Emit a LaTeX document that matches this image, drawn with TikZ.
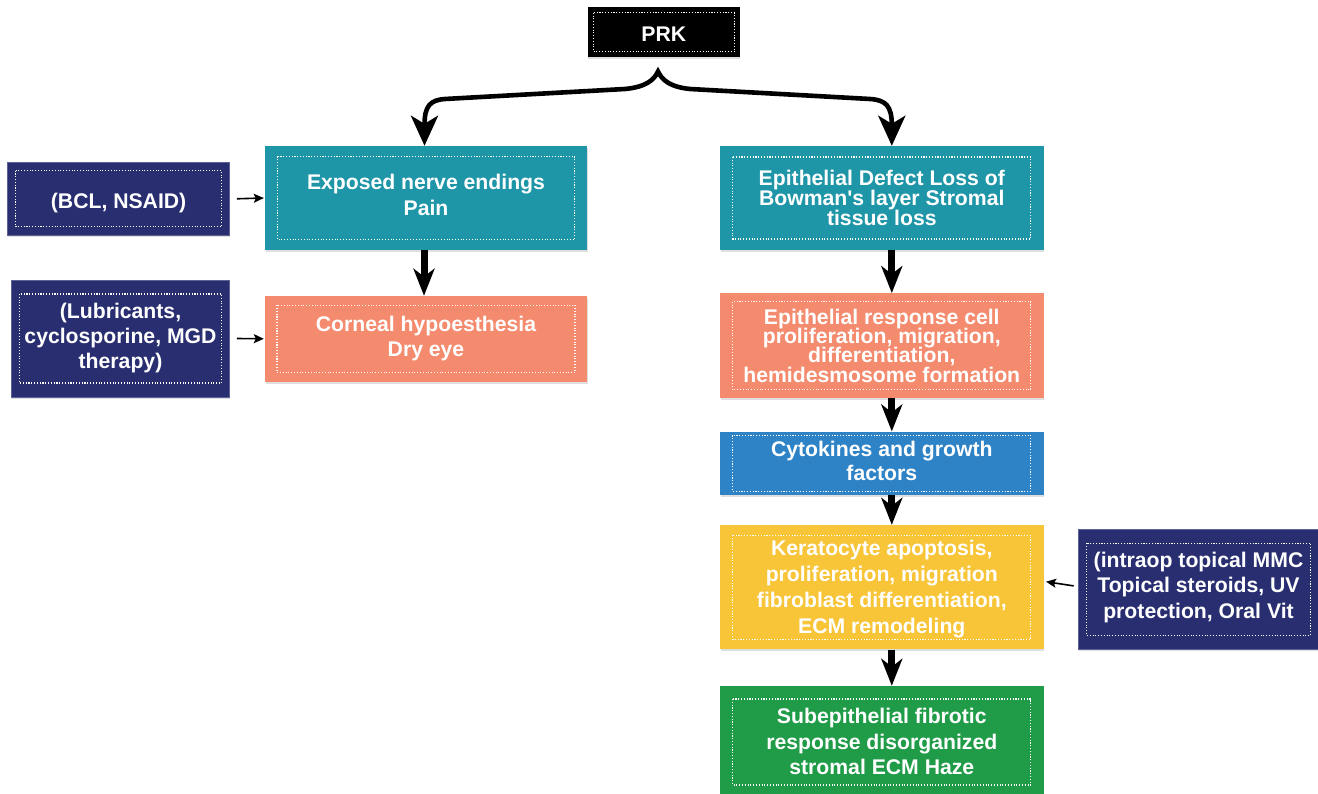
\documentclass[tikz,border=0pt]{standalone}
\usepackage{fontspec}
\setmainfont{Liberation Sans}[Ligatures=TeXOff]
\usetikzlibrary{arrows.meta,shadows}
\definecolor{cteal}{RGB}{30,150,168}
\definecolor{csalmon}{RGB}{244,139,110}
\definecolor{cblue}{RGB}{46,130,198}
\definecolor{cyellow}{RGB}{248,196,56}
\definecolor{cgreen}{RGB}{32,156,72}
\definecolor{cnavy}{RGB}{40,46,112}
\newcommand\dd[1]{\rule[-#1pt]{0pt}{0pt}}
\newcommand\hh[1]{\rule{0pt}{#1pt}}
\newcommand\bx[1]{\bfseries\fontsize{21.2}{#1}\selectfont\lineskiplimit=-50pt}
\begin{document}
\begin{tikzpicture}[x=1pt,y=-1pt,
  dotframe/.style 2 args={path picture={\draw[white,line width=1.1pt,dash pattern=on 1.1pt off 1.7pt]
      ([shift={(#1pt,-#2pt)}]path picture bounding box.north west) rectangle
      ([shift={(-#1pt,#2pt)}]path picture bounding box.south east);}},
  box/.style={fill=#1,draw=none,text=white,align=center,inner sep=0pt,
      drop shadow={shadow xshift=0.5pt,shadow yshift=-2pt,opacity=0.25},
      dotframe={12.5}{10.5}},
  navybox/.style={box=cnavy,draw=cnavy!75!white,line width=0.6pt},
  bigarrow/.style={line width=7pt,-{Stealth[length=27pt,width=21pt,inset=8pt]}},
  brace/.style={line width=4.6pt,line join=miter,
      {Stealth[length=30pt,width=27pt,inset=8pt]}-{Stealth[length=30pt,width=27pt,inset=8pt]}},
  smallarrow/.style={line width=1.6pt,-{Stealth[length=10pt,width=9pt,inset=2pt]}}
]
\useasboundingbox (0,0) rectangle (1318,794);
\begin{scope}
\clip (0,0) rectangle (1318,794);
\node[box=black,minimum width=152,minimum height=50,dotframe={5.5}{5.5},
      font=\bx{24},text height=18.8pt,text depth=0pt] (prk) at (663.8,32.3) {PRK};

\node[box=cteal,minimum width=322,minimum height=104,font=\bx{26}] (nerve) at (426,198)
  {Exposed nerve endings\\Pain\dd{7.2}};
\node[navybox,minimum width=222,minimum height=72.3,dotframe={8}{8},
      font=\bx{24},text height=19pt,text depth=0pt] (bcl) at (118.6,198.8)
  {(BCL, NSAID)};
\node[box=csalmon,minimum width=322,minimum height=85.7,dotframe={12}{9.3},font=\bx{25}] (hypo) at (426,338.8)
  {Corneal hypoesthesia\\Dry eye};
\node[navybox,minimum width=218,minimum height=117,dotframe={8}{14},font=\bx{25}] (lub) at (120.5,338.5)
  {(Lubricants,\\cyclosporine, MGD\\therapy)\dd{5.8}};

\node[box=cteal,minimum width=323.5,minimum height=104,dotframe={12.7}{11},font=\bx{20.2}] (defect) at (881.8,198)
  {Epithelial Defect Loss of\\Bowman's layer Stromal\\tissue loss};
\node[box=csalmon,minimum width=323.5,minimum height=105,dotframe={12.7}{8.5},font=\bx{19.2}] (epresp) at (881.8,345.8)
  {Epithelial response cell\\proliferation, migration,\\differentiation,\\hemidesmosome formation};
\node[box=cblue,minimum width=323.5,minimum height=63.3,dotframe={12.7}{3.8},font=\bx{24}] (cyto) at (881.8,463.3)
  {Cytokines and growth\\factors\dd{5.8}};
\node[box=cyellow,minimum width=323.5,minimum height=124.3,dotframe={12.7}{10},font=\bx{25.7}] (kera) at (881.8,587.2)
  {\hh{19.1}Keratocyte apoptosis,\\proliferation, migration\\fibroblast differentiation,\\ECM remodeling};
\node[box=cgreen,minimum width=323.5,minimum height=112,dotframe={12.7}{13},font=\bx{25.8}] (haze) at (881.8,742)
  {Subepithelial fibrotic\\response disorganized\\stromal ECM Haze\dd{1}};
\node[navybox,minimum width=240,minimum height=120,dotframe={8}{14},font=\bx{25.5}] (mmc) at (1198.5,589.3)
  {(intraop topical MMC\\Topical steroids, UV\\protection, Oral Vit\dd{8.4}};
\end{scope}

% brace arrow from PRK splitting to both branches
\coordinate (peak) at ([xshift=-5.8pt,yshift=-14pt]prk.south);
\draw[brace] ([xshift=-1.5pt]nerve.north) .. controls (424.5,106) and (430,100) .. (445,99)
   -- (625,89) .. controls (646,87) and (654,80) .. (peak)
   .. controls (662,80) and (670,87) .. (690,89)
   -- (870,99) .. controls (886,100) and (891.8,106) .. ([xshift=10pt]defect.north);

% vertical flow arrows
\draw[bigarrow] ([xshift=-2pt]nerve.south) -- ([xshift=-2pt]hypo.north);
\draw[bigarrow] ([xshift=10pt]defect.south) -- ([xshift=10pt]epresp.north);
\draw[bigarrow] ([xshift=10pt]epresp.south) -- ([xshift=10pt]cyto.north);
\draw[bigarrow] ([xshift=10pt]cyto.south) -- ([xshift=10pt]kera.north);
\draw[bigarrow] ([xshift=10pt]kera.south) -- ([xshift=10pt]haze.north);

% treatment arrows
\draw[smallarrow] ([xshift=7pt]bcl.east) -- ([xshift=-1pt]nerve.west);
\draw[smallarrow] ([xshift=7pt]lub.east) -- ([xshift=-1pt]hypo.west);
\draw[smallarrow] ([xshift=-4.5pt,yshift=3.4pt]mmc.west) -- ([xshift=2.3pt,yshift=5.5pt]kera.east);
\end{tikzpicture}
\end{document}
